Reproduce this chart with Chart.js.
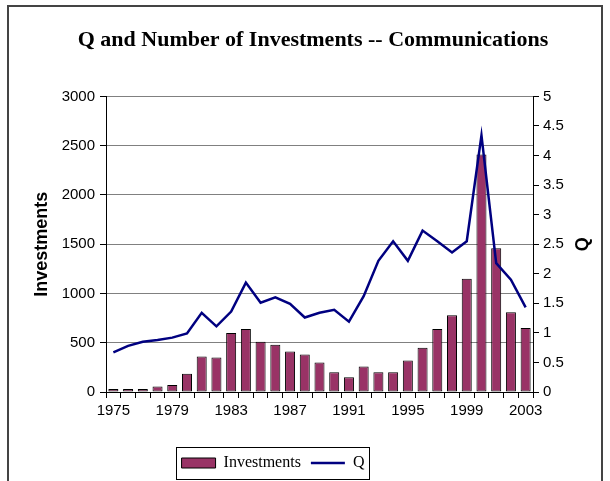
<!DOCTYPE html>
<html>
<head>
<meta charset="utf-8">
<script src="https://cdn.jsdelivr.net/npm/chart.js@4/dist/chart.umd.min.js"></script>
<style>
  body { margin: 0; background: #fff; }
  #frame { position: absolute; left: 7px; top: 5px; width: 596px; height: 500px; border: 2px solid #444; box-sizing: border-box; }
  #wrap { position: absolute; left: 0; top: 0; width: 610px; height: 481px; }
</style>
</head>
<body>
<div id="frame"></div>
<div id="wrap"><canvas id="myChart" width="610" height="481"></canvas></div>
<script>
const years = ['1975', '1976', '1977', '1978', '1979', '1980', '1981', '1982', '1983', '1984',
  '1985', '1986', '1987', '1988', '1989', '1990', '1991', '1992', '1993', '1994',
  '1995', '1996', '1997', '1998', '1999', '2000', '2001', '2002', '2003']
const investments = [30, 30, 30, 55, 70, 185, 360, 350, 600, 640,
  510, 480, 410, 380, 300, 200, 150, 260, 200, 200,
  320, 450, 640, 780, 1150, 2410, 1460, 810, 650]
const qValues = [0.67, 0.78, 0.85, 0.88, 0.92, 0.99, 1.34, 1.11, 1.36, 1.85,
  1.51, 1.60, 1.49, 1.26, 1.34, 1.39, 1.19, 1.62, 2.22, 2.55,
  2.22, 2.73, 2.55, 2.36, 2.55, 4.34, 2.18, 1.90, 1.43]

// legend sits a bit left of centre in the original, and has a box round it
const legendFrame = {
  id: 'legendFrame',
  afterLayout (chart) {
    chart.legend.left -= 32
    chart.legend.right -= 32
    if (chart.titleBlock) {
      chart.titleBlock.left += 8
      chart.titleBlock.right += 8
    }
  },
  afterDraw (chart) {
    const boxes = chart.legend.legendHitBoxes
    if (!boxes || !boxes.length) return
    let l = Infinity, r = -Infinity, t = Infinity, b = -Infinity
    boxes.forEach(h => {
      l = Math.min(l, h.left); r = Math.max(r, h.left + h.width)
      t = Math.min(t, h.top); b = Math.max(b, h.top + h.height)
    })
    const ctx = chart.ctx
    ctx.save()
    ctx.strokeStyle = '#000'
    ctx.lineWidth = 1
    ctx.strokeRect(Math.round(l - 6) + 0.5, Math.round(t - 8) + 0.5, Math.round(r - l + 10), Math.round(b - t + 16))
    ctx.restore()
  }
}

// right axis title reads bottom to top like Excel's
const qTitle = {
  id: 'qTitle',
  afterDraw (chart) {
    const s = chart.scales.y1
    const ctx = chart.ctx
    ctx.save()
    ctx.translate(s.right - 27, (s.top + s.bottom) / 2)
    ctx.rotate(-Math.PI / 2)
    ctx.font = "bold 18px 'Liberation Sans', Arial, sans-serif"
    ctx.fillStyle = '#000'
    ctx.textAlign = 'center'
    ctx.textBaseline = 'middle'
    ctx.fillText('Q', 0, 0)
    ctx.restore()
  }
}

Chart.defaults.font.family = "'Liberation Sans', Arial, sans-serif"
Chart.defaults.font.size = 15
Chart.defaults.color = '#000'

const config = {
  type: 'bar',
  data: {
    labels: years,
    datasets: [
      {
        type: 'bar',
        label: 'Investments',
        data: investments,
        backgroundColor: '#993366',
        borderColor: '#000',
        borderWidth: 1,
        borderSkipped: false,
        barPercentage: 0.68,
        categoryPercentage: 1,
        pointStyle: 'rect',
        yAxisID: 'y',
        order: 1
      },
      {
        type: 'line',
        label: 'Q',
        data: qValues,
        borderColor: '#000080',
        backgroundColor: '#000080',
        borderWidth: 2.5,
        pointRadius: 0,
        pointStyle: 'line',
        tension: 0,
        yAxisID: 'y1',
        order: 0
      }
    ]
  },
  options: {
    responsive: false,
    animation: false,
    layout: { padding: { top: 10, left: 0, right: 0, bottom: 0 } },
    plugins: {
      title: {
        display: true,
        text: 'Q and Number of Investments -- Communications',
        font: { family: "'Liberation Serif', 'Times New Roman', serif", size: 22, weight: 'bold' },
        color: '#000',
        padding: { top: 17, bottom: 43 }
      },
      legend: {
        position: 'bottom',
        labels: {
          usePointStyle: true,
          pointStyleWidth: 34,
          boxHeight: 10,
          padding: 10,
          font: { family: "'Liberation Serif', 'Times New Roman', serif", size: 16 },
          sort: (a, b) => a.datasetIndex - b.datasetIndex
        }
      },
      tooltip: { enabled: false }
    },
    scales: {
      x: {
        offset: true,
        grid: { drawOnChartArea: false, offset: true, tickLength: 6, tickColor: '#000' },
        border: { color: '#000' },
        ticks: {
          autoSkip: false,
          maxRotation: 0,
          padding: 4,
          callback: (v, i) => (i % 4 === 0 ? years[i] : '')
        },
        afterFit: s => { s.height = 53 }
      },
      y: {
        position: 'left',
        min: 0,
        max: 3000,
        ticks: { stepSize: 500, padding: 5, callback: v => String(v) },
        grid: { color: '#808080', tickColor: '#000', tickLength: 6 },
        border: { color: '#000' },
        title: {
          display: true,
          text: 'Investments',
          font: { size: 18, weight: 'bold' },
          padding: { top: 31, bottom: 0 }
        },
        afterFit: s => { s.width = 106 }
      },
      y1: {
        position: 'right',
        min: 0,
        max: 5,
        ticks: { stepSize: 0.5, padding: 4, callback: v => String(v) },
        grid: { drawOnChartArea: false, tickColor: '#000', tickLength: 6 },
        border: { color: '#000' },
        afterFit: s => { s.width = 77 }
      }
    }
  },
  plugins: [legendFrame, qTitle]
}

var myChart = new Chart(document.getElementById('myChart'), config)
</script>
</body>
</html>
